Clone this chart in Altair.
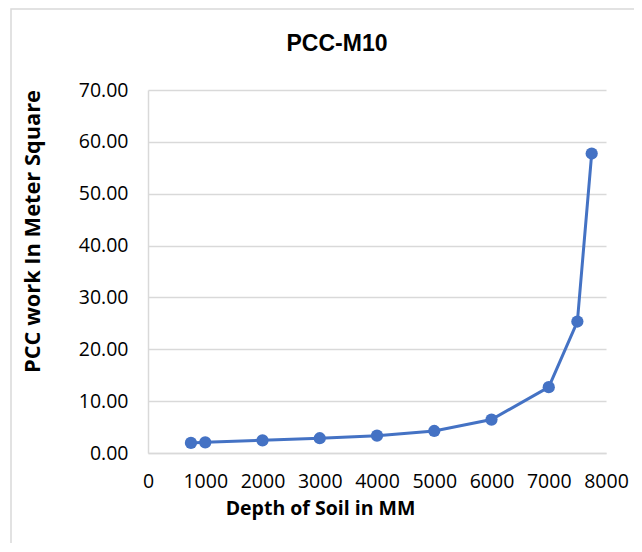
import altair as alt
import pandas as pd

depth = [750, 1000, 2000, 3000, 4000, 5000, 6000, 7000, 7500, 7750]
area = [1.95, 2.05, 2.45, 2.85, 3.35, 4.25, 6.45, 12.7, 25.35, 57.75]
x_ticks = [0, 1000, 2000, 3000, 4000, 5000, 6000, 7000, 8000]
y_ticks = [0, 10, 20, 30, 40, 50, 60, 70]

df = pd.DataFrame({"depth": depth, "area": area})

base = alt.Chart(df)

line = base.mark_line(color="#4472C4", strokeWidth=3).encode(
    x=alt.X("depth:Q",
            scale=alt.Scale(domain=[0, 8000], nice=False),
            axis=alt.Axis(values=x_ticks, format="d", labelOverlap=False, labelFlush=False,
                          title="Depth of Soil in MM", grid=False, ticks=False,
                          domainColor="#d9d9d9", domainWidth=1.5,
                          labelFontSize=19.5, labelFont="Open Sans", labelColor="#000",
                          labelPadding=19,
                          titleFontSize=19.5, titleFont="Open Sans", titleFontWeight="bold",
                          titleColor="#000", titleX=172, titleY=55,
                          titleAnchor="middle", titleBaseline="middle")),
    y=alt.Y("area:Q",
            scale=alt.Scale(domain=[0, 70], nice=False),
            axis=alt.Axis(values=y_ticks, format=".2f", labelOverlap=False,
                          title="PCC work In Meter Square",
                          gridColor="#d9d9d9", gridWidth=1.5,
                          domainColor="#d9d9d9", domainWidth=1.5, ticks=False,
                          labelFontSize=19.5, labelFont="Open Sans", labelColor="#000",
                          labelPadding=20,
                          titleFontSize=21.8, titleFont="Open Sans", titleFontWeight="bold",
                          titleColor="#000", titleX=-116, titleY=141,
                          titleAnchor="middle", titleBaseline="middle")),
)

pts = base.mark_circle(color="#4472C4", size=150, opacity=1).encode(
    x="depth:Q", y="area:Q"
)

frame = alt.Chart(pd.DataFrame({"a": [0]})).mark_rect(
    fillOpacity=0, stroke="#d9d9d9", strokeWidth=1.5, clip=False
).encode(x=alt.value(-137), x2=alt.value(700), y=alt.value(-81), y2=alt.value(700))

chart = alt.layer(frame, line, pts).properties(
    width=458,
    height=363,
    title=alt.TitleParams("PCC-M10", fontSize=23, font="Liberation Sans",
                          fontWeight="bold", color="#000", anchor="middle",
                          frame="group", dx=-40, offset=0, dy=48),
    autosize=alt.AutoSizeParams(type="none"),
    padding={"left": 140, "top": 82, "right": 28, "bottom": 90},
).configure_view(stroke=None)

chart.save("out.html", embed_options={"renderer": "svg", "actions": False})
